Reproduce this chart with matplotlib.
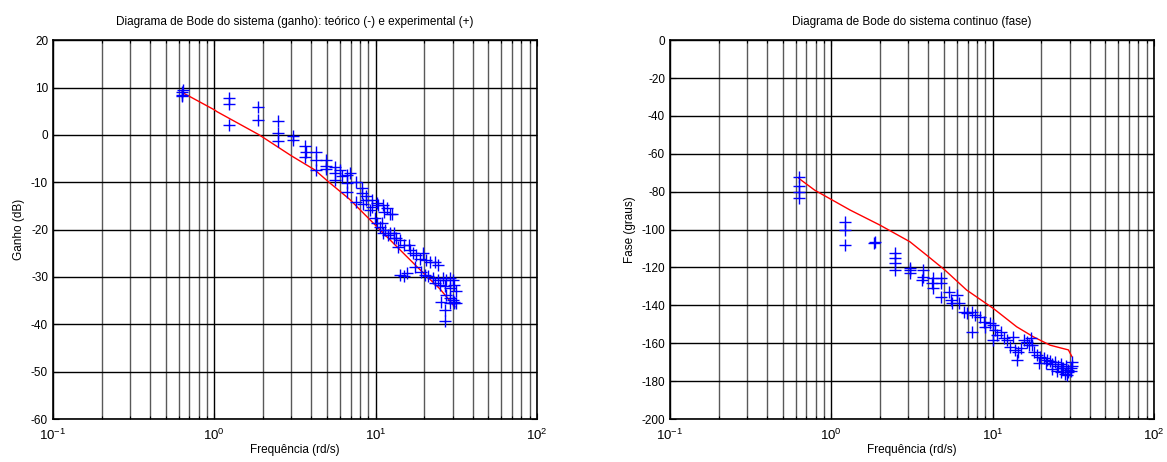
import matplotlib
matplotlib.use('Agg')
import matplotlib.pyplot as plt
import numpy as np

plt.rcParams['font.family'] = ['Liberation Sans', 'DejaVu Sans']
plt.rcParams['mathtext.fontset'] = 'custom'
plt.rcParams['mathtext.rm'] = 'Liberation Sans'
plt.rcParams['axes.unicode_minus'] = False

# teorico (linha vermelha)
w_teo = [0.63, 1.0, 1.04, 1.9, 3.0, 4.2, 5.1, 6.9, 11.2, 18.0, 25.0, 31.0]
g_teo = [9.0, 5.3, 4.9, 0.0, -4.4, -7.4, -9.9, -13.6, -20.8, -27.8, -32.5, -36.3]

w_fteo = [0.63, 0.79, 1.31, 2.0, 3.07, 3.9, 5.07, 6.9, 10.1, 14.1, 17.9, 22.7, 26.5, 29.5, 31.0]
f_teo = [-73, -79.2, -89.7, -97.6, -106.4, -113.5, -121.4, -131.9, -141.6, -151.3, -156.6, -161, -162.5, -163.5, -167]

# experimental (+) - ganho
w_exp = [0.63, 0.63, 0.63, 0.64,
         1.23, 1.23, 1.23,
         1.86, 1.86,
         2.47, 2.47, 2.47,
         3.09, 3.09,
         3.65, 3.7, 3.65,
         4.3, 4.3, 4.3,
         4.9, 4.9, 4.9,
         5.6, 5.6, 5.6,
         6.0, 6.2, 6.6, 6.6, 6.6, 6.9,
         7.6, 7.6, 8.2, 8.2, 8.4, 8.7, 8.7,
         9.2, 9.5, 9.5, 9.9, 10.2, 10.2, 10.4, 10.6,
         10.9, 11.1, 11.1, 11.2, 11.4, 11.7, 12.0, 12.3, 12.3, 12.6,
         13.0, 13.0, 13.4, 13.8, 14.2, 14.9, 16.0, 16.3,
         14.2, 14.9, 15.6,
         17.0, 17.5, 17.9, 18.8, 19.2, 19.7, 20.1, 20.6, 21.1, 21.6,
         22.7, 23.3, 23.3, 24.4, 24.4, 25.0, 26.2, 26.8, 27.5, 27.5, 28.8, 28.8, 28.8,
         30.2, 30.2, 30.8, 30.8, 31.5,
         25.6, 26.8, 26.8, 28.8, 30.8, 31.5]
g_exp = [8.5, 9.0, 8.2, 9.4,
         7.7, 6.5, 2.1,
         5.8, 3.1,
         2.9, 0.5, -1.3,
         -0.2, -1.1,
         -2.4, -3.6, -4.6,
         -3.7, -5.4, -7.4,
         -5.3, -6.5, -7.2,
         -6.7, -8.0, -9.5,
         -7.4, -8.7, -8.5, -10.2, -12.0, -8.1,
         -9.9, -14.1, -11.3, -12.3, -14.5, -13.0, -13.8,
         -15.9, -13.8, -15.2, -17.6, -14.4, -18.7, -14.8, -19.4,
         -18.7, -14.8, -20.8, -16.3, -20.1, -15.5, -21.1, -16.6, -20.8, -16.6,
         -20.8, -21.8, -21.8, -23.6, -22.2, -23.2, -23.2, -24.3,
         -29.6, -29.9, -29.2,
         -25.0, -27.8, -25.4, -26.1, -28.9, -25.0, -29.6, -26.4, -29.9, -26.8,
         -30.3, -26.8, -31.3, -27.5, -30.6, -31.7, -30.3, -32.0, -30.6, -33.8, -30.3, -32.4, -34.4,
         -30.6, -34.8, -31.7, -35.5, -35.5,
         -35.2, -37.0, -39.4, -35.6, -35.2, -33.0]

# experimental (+) - fase
wf_exp = [0.63, 0.63, 0.63, 0.63,
          1.22, 1.22, 1.22,
          1.84, 1.86,
          2.48, 2.48, 2.48, 2.48,
          3.07, 3.07, 3.07,
          3.63, 3.69, 3.69,
          4.2, 4.28, 4.3, 4.8, 4.8, 4.8,
          5.4, 5.5, 5.6, 6.0, 6.2,
          6.6, 6.9, 7.4, 7.4, 7.8, 8.4, 8.8, 9.0,
          9.6, 10.1, 10.3, 10.6, 10.1,
          11.2, 11.7, 12.3, 13.4,
          12.8, 13.7, 14.3, 15.0, 14.1,
          15.7, 16.4, 17.2, 16.8, 17.6,
          18.0, 18.9, 19.8, 20.8, 21.8, 21.3, 19.4,
          22.8, 23.5, 24.5, 25.5, 26.5, 27.5, 28.5, 29.5, 30.5, 31.0,
          23.5, 25.0, 26.5, 28.0, 29.5, 30.5, 27.0, 29.0, 31.0]
f_exp = [-72.1, -77.0, -80.0, -83.5,
         -95.9, -100.3, -108.2,
         -107.0, -106.5,
         -112.6, -115.2, -117.8, -121.4,
         -120.5, -121.4, -123.1,
         -126.6, -121.4, -124.9,
         -128.4, -125.7, -131.0, -125.7, -128.4, -135.5,
         -132.8, -137.2, -139.0, -134.6, -139.0,
         -143.4, -144.2, -143.4, -154.0, -145.1, -146.0, -148.6, -151.3,
         -149.5, -150.4, -153.0, -155.7, -158.3,
         -153.9, -157.4, -158.3, -156.6,
         -161.8, -163.6, -164.4, -162.7, -168.9,
         -158.3, -159.2, -157.4, -160.9, -160.9,
         -164.5, -166.2, -167.1, -168.0, -168.9, -170.6, -170.6,
         -169.5, -171.0, -170.0, -172.0, -171.0, -173.0, -172.0, -174.0, -173.0, -172.0,
         -173.5, -174.5, -175.0, -176.0, -175.0, -174.5, -173.0, -176.5, -170.0]

fig = plt.figure(figsize=(11.67, 4.62), dpi=100)
ax1 = fig.add_axes([0.0454, 0.093, 0.4147, 0.820])
ax2 = fig.add_axes([0.5741, 0.093, 0.4147, 0.820])


def estilo(ax):
    ax.set_xscale('log')
    ax.set_xlim(0.1, 100)
    ax.grid(True, which='major', color='k', linewidth=1.0)
    ax.grid(True, which='minor', axis='x', color='0.35', linewidth=1.0)
    ax.tick_params(which='both', direction='in', top=True, right=True, labelsize=8.5,
                   colors='k', width=0.8)
    ax.tick_params(which='major', length=4)
    ax.tick_params(which='minor', length=2)
    ax.tick_params(axis='x', which='major', pad=6, labelsize=9.5)
    for s in ax.spines.values():
        s.set_linewidth(1.2)
    ax.set_xlabel('Frequência (rd/s)', fontsize=8.5, labelpad=1)


ax1.plot(w_teo, g_teo, color='red', linewidth=1.0)
ax1.plot(w_exp, g_exp, '+', color='blue', markersize=8, markeredgewidth=1.0)
estilo(ax1)
ax1.set_ylim(-60, 20)
ax1.set_yticks(np.arange(-60, 21, 10))
ax1.set_ylabel('Ganho (dB)', fontsize=8.5, labelpad=4)
ax1.set_title('Diagrama de Bode do sistema (ganho): teórico (-) e experimental (+)',
              fontsize=8.5, pad=11)

ax2.plot(w_fteo, f_teo, color='red', linewidth=1.0)
ax2.plot(wf_exp, f_exp, '+', color='blue', markersize=8, markeredgewidth=1.0)
estilo(ax2)
ax2.set_ylim(-200, 0)
ax2.set_yticks(np.arange(-200, 1, 20))
ax2.set_ylabel('Fase (graus)', fontsize=8.5, labelpad=4)
ax2.set_title('Diagrama de Bode do sistema continuo (fase)', fontsize=8.5, pad=11)

fig.savefig('out.png', dpi=100)
